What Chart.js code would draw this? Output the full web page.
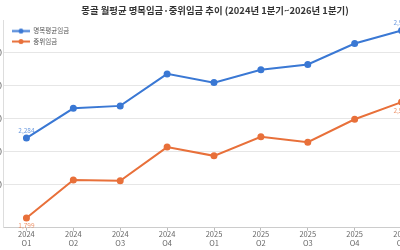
<!DOCTYPE html>
<html>
<head>
<meta charset="utf-8">
<script src="https://cdn.jsdelivr.net/npm/chart.js@4.4.0/dist/chart.umd.min.js"></script>
<style>
  html, body { margin: 0; padding: 0; background: #fff; overflow: hidden; }
  body { width: 400px; height: 250px; position: relative; }
  #wrap { position: absolute; left: -37px; top: 0; width: 504px; height: 250px; }
</style>
</head>
<body>
<div id="wrap"><canvas id="chart"></canvas></div>
<script>
const quarters = [
  ['2024', 'Q1'], ['2024', 'Q2'], ['2024', 'Q3'], ['2024', 'Q4'],
  ['2025', 'Q1'], ['2025', 'Q2'], ['2025', 'Q3'], ['2025', 'Q4'],
  ['2026', 'Q1'],
];
const nominalWage = [2284, 2464, 2479, 2673, 2620, 2698, 2730, 2857, 2936];
const medianWage = [1799, 2029, 2025, 2229, 2176, 2292, 2259, 2398, 2502];
const seriesNames = ['명목평균임금', '중위임금'];

const BLUE = 'rgb(58, 120, 212)';
const ORANGE = 'rgb(232, 112, 58)';
const FONT = "'Noto Sans CJK KR', 'Noto Sans', sans-serif";

// legend marker: short line with a dot in the middle
function lineMarker(color) {
  const c = document.createElement('canvas');
  c.width = 18;
  c.height = 7;
  const g = c.getContext('2d');
  g.strokeStyle = color;
  g.lineWidth = 2;
  g.beginPath();
  g.moveTo(0, 3.5);
  g.lineTo(18, 3.5);
  g.stroke();
  g.fillStyle = color;
  g.beginPath();
  g.arc(9, 3.5, 2.5, 0, Math.PI * 2);
  g.fill();
  return c;
}

// value labels on the first and last point only
const endLabels = {
  id: 'endLabels',
  afterDatasetsDraw(chart) {
    const ctx = chart.ctx;
    ctx.save();
    ctx.font = '6.5px ' + FONT;
    ctx.textAlign = 'center';
    ctx.textBaseline = 'middle';
    chart.data.datasets.forEach((ds, i) => {
      const meta = chart.getDatasetMeta(i);
      const last = meta.data.length - 1;
      ctx.fillStyle = ds.labelColor;
      [0, last].forEach((j) => {
        const pt = meta.data[j];
        const dy = i === 0 ? -8 : 8;
        ctx.fillText(ds.data[j].toLocaleString('en-US'), pt.x, pt.y + dy);
      });
    });
    ctx.restore();
  },
};

// put the legend in the top-left corner of the plot
const legendNudge = {
  id: 'legendNudge',
  afterLayout(chart) {
    const lg = chart.legend;
    if (lg) {
      lg.left = chart.chartArea.left + 5;
      lg.top = chart.chartArea.top + 3;
    }
  },
};

new Chart(document.getElementById('chart'), {
  type: 'line',
  data: {
    labels: quarters,
    datasets: [
      {
        label: seriesNames[0],
        data: nominalWage,
        borderColor: BLUE,
        backgroundColor: BLUE,
        labelColor: 'rgba(58, 120, 212, 0.75)',
        borderWidth: 2,
        pointRadius: 2.5,
        pointHoverRadius: 2.5,
        tension: 0,
      },
      {
        label: seriesNames[1],
        data: medianWage,
        borderColor: ORANGE,
        backgroundColor: ORANGE,
        labelColor: 'rgba(232, 112, 58, 0.75)',
        borderWidth: 2,
        pointRadius: 2.5,
        pointHoverRadius: 2.5,
        tension: 0,
      },
    ],
  },
  options: {
    responsive: true,
    maintainAspectRatio: false,
    animation: false,
    layout: { padding: { top: 0, bottom: 4, left: 0, right: 0 } },
    plugins: {
      title: {
        display: true,
        text: '몽골 월평균 명목임금·중위임금 추이 (2024년 1분기~2026년 1분기)',
        color: '#333',
        font: { family: FONT, size: 9.4, weight: 'bold' },
        padding: { top: 4.5, bottom: 5 },
      },
      legend: {
        position: 'chartArea',
        align: 'start',
        labels: {
          usePointStyle: true,
          pointStyleWidth: 18,
          padding: 4,
          color: '#555',
          font: { family: FONT, size: 6.5 },
          generateLabels(chart) {
            return chart.data.datasets.map((ds, i) => ({
              text: ds.label,
              pointStyle: lineMarker(ds.borderColor),
              fillStyle: ds.borderColor,
              strokeStyle: ds.borderColor,
              lineWidth: 0,
              fontColor: '#555',
              datasetIndex: i,
              hidden: false,
            }));
          },
        },
      },
      tooltip: { enabled: false },
    },
    scales: {
      x: {
        offset: true,
        grid: { drawOnChartArea: false, drawTicks: true, tickLength: 3, color: '#bbb' },
        border: { color: '#ccc' },
        ticks: {
          color: '#666',
          padding: -1,
          maxRotation: 0,
          autoSkip: false,
          font: { family: FONT, size: 7.5, lineHeight: 1.15 },
        },
      },
      y: {
        min: 1740,
        max: 2995,
        afterBuildTicks(axis) {
          axis.ticks = axis.ticks.filter((t) => t.value % 200 === 0);
        },
        afterFit(axis) { axis.width = 40; },
        grid: { color: '#e6e6e6', drawTicks: false },
        border: { color: '#ddd' },
        ticks: {
          stepSize: 200,
          padding: 1,
          color: '#666',
          font: { family: FONT, size: 9 },
          callback: (v) => v.toLocaleString('en-US'),
        },
      },
      spacer: {
        position: 'right',
        display: true,
        afterFit(axis) { axis.width = 42; },
        grid: { display: false },
        border: { display: false },
        ticks: { display: false },
      },
    },
  },
  plugins: [endLabels, legendNudge],
});
</script>
</body>
</html>
